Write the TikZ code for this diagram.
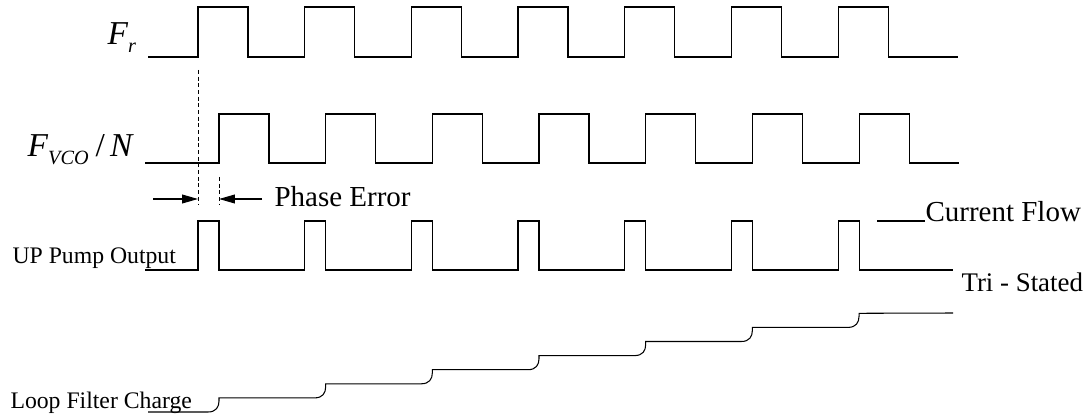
\documentclass[tikz,border=0pt]{standalone}
\usepackage{fontspec}
\setmainfont{Liberation Serif}
\usetikzlibrary{arrows.meta}
\newcommand{\sub}[1]{\raisebox{-4pt}{\fontsize{11.5}{12}\selectfont\textit{#1}}}
\begin{document}
\begin{tikzpicture}[x=0.02cm,y=-0.02cm,line width=0.6pt]
		\tikzset{label/.style = {anchor=base west,inner sep=0pt}}
		\tikzset{big/.style = {label,font=\fontsize{16.5}{20}\selectfont}}
		\tikzset{small/.style = {label,font=\fontsize{13.5}{16}\selectfont}}
		\tikzset{sig/.style = {label,font=\fontsize{19}{22}\selectfont}}
		\tikzset{guide/.style = {dash pattern=on 2.2pt off 1.6pt,line width=0.5pt}}
		\tikzset{edge/.style = {-{Triangle[length=9pt,width=5pt]}}}
		\useasboundingbox (0,0) rectangle (1091,415);
		% signal names
		\node[sig] (fr) at (107,45) {\textit{F}\sub{r}};
		\node[sig] (fvco) at (27,157) {\textit{F}\sub{VCO}\hspace{4pt}/\hspace{3pt}\textit{N}};
		\node[small] (up) at (12,263) {UP Pump Output};
		\node[small] (loop) at (10,408) {Loop Filter Charge};
		\node[big] (phase) at (274,207) {Phase Error};
		\node[big] (current) at (925,221) {Current Flow};
		\node[big,font=\fontsize{15.3}{18}\selectfont] (tri) at (961,291) {Tri - Stated};
		% waveforms
		\draw (148,57) foreach \i in {0,...,6} {
			-- ({198+106.67*\i},57) -- ++(0,-50) -- ++(50,0) -- ++(0,50)} -- (958,57);
		\draw (145,163) foreach \i in {0,...,6} {
			-- ({219+106.67*\i},163) -- ++(0,-49) -- ++(50,0) -- ++(0,49)} -- (959,163);
		\draw (145,270) foreach \i in {0,...,6} {
			-- ({198+106.67*\i},270) -- ++(0,-49) -- ++(21,0) -- ++(0,49)} -- (953,270);
		\draw (148,412) foreach \i in {0,...,6} {
			-- ({208+106.67*\i},{412-14.1*\i})
			.. controls ({216+106.67*\i},{412-14.1*\i}) and ({219+106.67*\i},{407-14.1*\i})
			.. ({219+106.67*\i},{401-14.1*\i}) -- ({219+106.67*\i},{397.9-14.1*\i})} -- (953,313);
		% phase error markers
		\coordinate (m1) at (198,70);
		\coordinate (m2) at (219,177);
		\coordinate (a1) at (153,199);
		\coordinate (a2) at (262,199);
		\coordinate (cf) at (877,221);
		\draw[guide] (m1) -- (198,205);
		\draw[guide] (m2) -- (219,205);
		\draw[edge] (a1) -- (198,199);
		\draw[edge] (a2) -- (219,199);
		\draw (cf) -- (current.base west);
	\end{tikzpicture}
\end{document}
